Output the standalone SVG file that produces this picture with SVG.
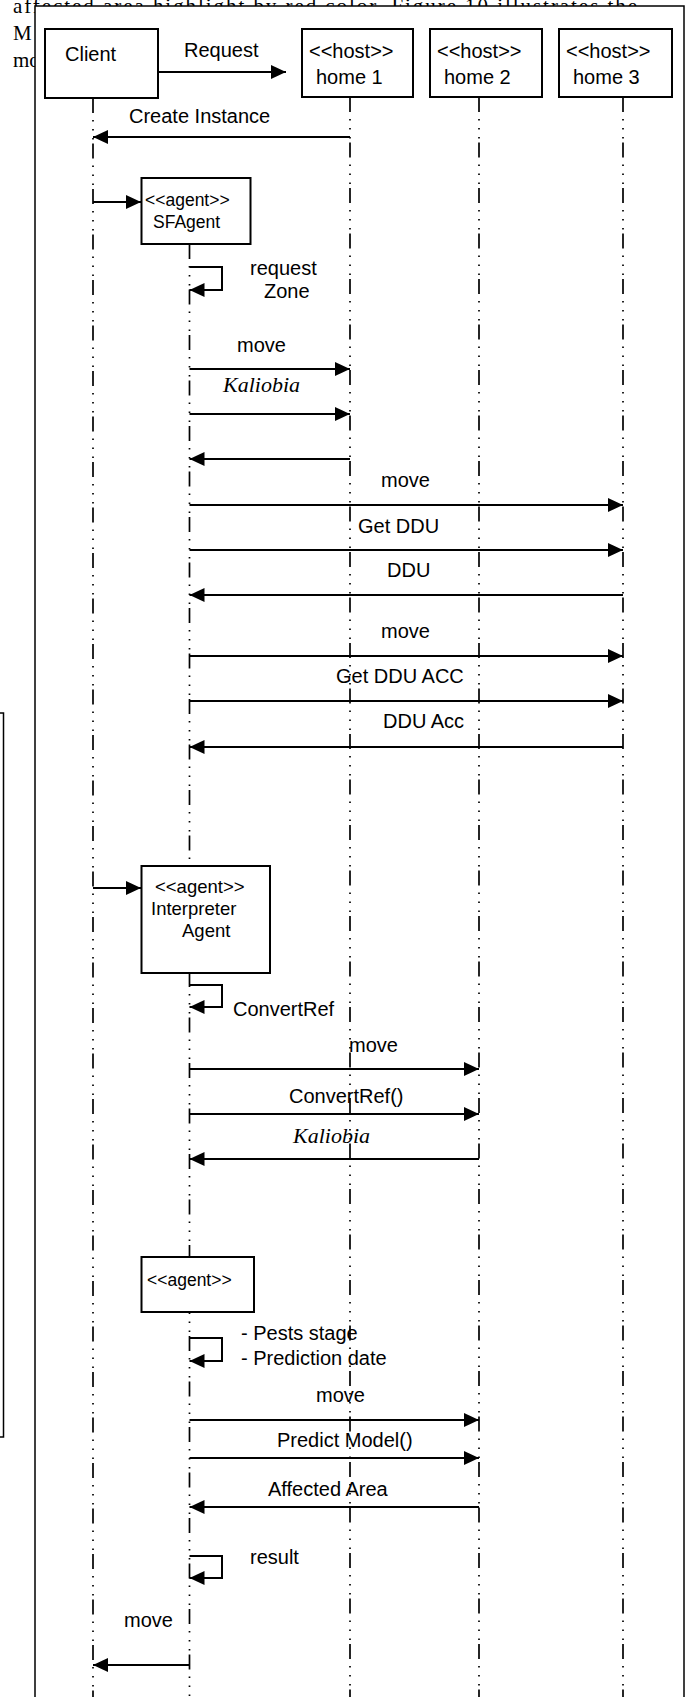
<svg xmlns="http://www.w3.org/2000/svg" width="689" height="1697" viewBox="0 0 689 1697">
<defs>
<marker id="ah" markerUnits="userSpaceOnUse" markerWidth="16" markerHeight="14" refX="15" refY="7" orient="auto"><path d="M0,0 L15,7 L0,14 z" fill="#000"/></marker>
<style>
.t{font-family:"Liberation Sans",Arial,sans-serif;font-size:20px;fill:#000}
.s{font-size:17.5px}
.m{font-size:18.5px}
.k{font-family:"Liberation Serif","Times New Roman",serif;font-style:italic;font-size:22px;fill:#000}
.bg{font-family:"Liberation Serif","Times New Roman",serif;font-size:21px;fill:#000}
.box{fill:#fff;stroke:#000;stroke-width:2}
.life{stroke:#000;stroke-width:1.7;fill:none;stroke-dasharray:15 7 1.5 7.5 1.5 7.5 1.5 4}
.msg{stroke:#000;stroke-width:2;fill:none;marker-end:url(#ah)}
</style>
</defs>

<g id="page-text-behind">
<text class="bg" x="13" y="13" textLength="624" lengthAdjust="spacing">affected area highlight by red color. Figure 10 illustrates the</text>
<text class="bg" x="13" y="40">M</text>
<text class="bg" x="13" y="67">mo</text>
</g>
<rect id="side-box" x="-50" y="713" width="53.5" height="724" fill="none" stroke="#000" stroke-width="1.5"/>
<rect id="frame" x="35" y="6" width="649" height="1720" fill="#fff" stroke="#000" stroke-width="1.5"/>

<g id="lifelines">
<line class="life" x1="93" y1="98" x2="93" y2="1697"/>
<line class="life" x1="189.5" y1="244" x2="189.5" y2="1697"/>
<line class="life" x1="350" y1="97" x2="350" y2="1697"/>
<line class="life" x1="479" y1="97" x2="479" y2="1697"/>
<line class="life" x1="623" y1="97" x2="623" y2="1697"/>
</g>

<g id="client">
<rect class="box" x="45" y="29" width="113" height="69"/>
<text class="t" x="65" y="61">Client</text>
</g>
<g id="home1">
<rect class="box" x="302" y="29" width="111" height="68"/>
<text class="t" x="309" y="58">&lt;&lt;host&gt;&gt;</text>
<text class="t" x="316" y="84">home 1</text>
</g>
<g id="home2">
<rect class="box" x="430" y="29" width="112" height="68"/>
<text class="t" x="437" y="58">&lt;&lt;host&gt;&gt;</text>
<text class="t" x="444" y="84">home 2</text>
</g>
<g id="home3">
<rect class="box" x="559" y="29" width="113" height="68"/>
<text class="t" x="566" y="58">&lt;&lt;host&gt;&gt;</text>
<text class="t" x="573" y="84">home 3</text>
</g>
<g id="sfagent">
<rect class="box" x="141.5" y="178" width="109" height="66"/>
<text class="t s" x="145" y="206">&lt;&lt;agent&gt;&gt;</text>
<text class="t s" x="153" y="228">SFAgent</text>
</g>
<g id="interpreter">
<rect class="box" x="141.5" y="866" width="128.5" height="107"/>
<text class="t m" x="155" y="893">&lt;&lt;agent&gt;&gt;</text>
<text class="t m" x="151" y="915">Interpreter</text>
<text class="t m" x="182" y="937">Agent</text>
</g>
<g id="agent3">
<rect class="box" x="141.5" y="1257" width="112.5" height="55"/>
<text class="t s" x="147" y="1286">&lt;&lt;agent&gt;&gt;</text>
</g>

<g id="connectors">
<line class="msg" x1="158" y1="72" x2="286" y2="72"/>
<line class="msg" x1="350" y1="137" x2="93" y2="137"/>
<line class="msg" x1="93" y1="202" x2="141" y2="202"/>
<polyline class="msg" points="189.5,267 222,267 222,290 189.5,290"/>
<line class="msg" x1="189.5" y1="369" x2="350" y2="369"/>
<line class="msg" x1="189.5" y1="414" x2="350" y2="414"/>
<line class="msg" x1="350" y1="459" x2="189.5" y2="459"/>
<line class="msg" x1="189.5" y1="505" x2="623" y2="505"/>
<line class="msg" x1="189.5" y1="550" x2="623" y2="550"/>
<line class="msg" x1="623" y1="595" x2="189.5" y2="595"/>
<line class="msg" x1="189.5" y1="656" x2="623" y2="656"/>
<line class="msg" x1="189.5" y1="701" x2="623" y2="701"/>
<line class="msg" x1="623" y1="747" x2="189.5" y2="747"/>
<line class="msg" x1="93" y1="888" x2="141" y2="888"/>
<polyline class="msg" points="189.5,985 222,985 222,1007 189.5,1007"/>
<line class="msg" x1="189.5" y1="1069" x2="479" y2="1069"/>
<line class="msg" x1="189.5" y1="1114" x2="479" y2="1114"/>
<line class="msg" x1="479" y1="1159" x2="189.5" y2="1159"/>
<polyline class="msg" points="189.5,1338 222,1338 222,1361 189.5,1361"/>
<line class="msg" x1="189.5" y1="1420" x2="479" y2="1420"/>
<line class="msg" x1="189.5" y1="1458" x2="479" y2="1458"/>
<line class="msg" x1="479" y1="1507" x2="189.5" y2="1507"/>
<polyline class="msg" points="189.5,1556 222,1556 222,1578 189.5,1578"/>
<line class="msg" x1="189.5" y1="1665" x2="93" y2="1665"/>
</g>

<g id="labels">
<text class="t" x="184" y="57">Request</text>
<text class="t" x="129" y="123">Create Instance</text>
<text class="t" x="250" y="275">request</text>
<text class="t" x="264" y="298">Zone</text>
<text class="t" x="237" y="352">move</text>
<text class="k" x="223" y="392">Kaliobia</text>
<text class="t" x="381" y="487">move</text>
<text class="t" x="358" y="533">Get DDU</text>
<text class="t" x="387" y="577">DDU</text>
<text class="t" x="381" y="638">move</text>
<text class="t" x="336" y="683">Get DDU ACC</text>
<text class="t" x="383" y="728">DDU Acc</text>
<text class="t" x="233" y="1016">ConvertRef</text>
<text class="t" x="349" y="1052">move</text>
<text class="t" x="289" y="1103">ConvertRef()</text>
<text class="k" x="293" y="1143">Kaliobia</text>
<text class="t" x="241" y="1340">- Pests stage</text>
<text class="t" x="241" y="1365">- Prediction date</text>
<text class="t" x="316" y="1402">move</text>
<text class="t" x="277" y="1447">Predict Model()</text>
<text class="t" x="268" y="1496">Affected Area</text>
<text class="t" x="250" y="1564">result</text>
<text class="t" x="124" y="1627">move</text>
</g>
</svg>
